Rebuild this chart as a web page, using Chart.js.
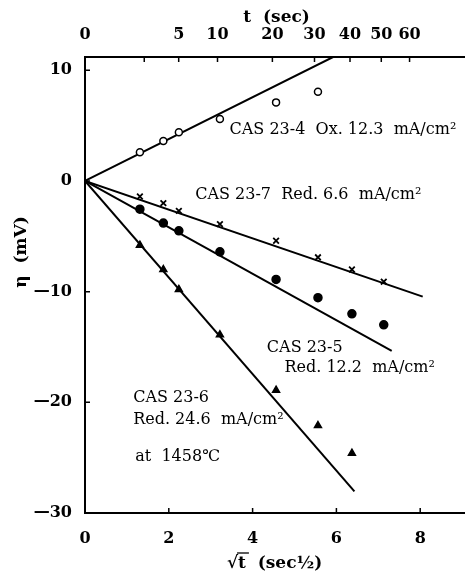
<!DOCTYPE html>
<html>
<head>
<meta charset="utf-8">
<script src="https://cdn.jsdelivr.net/npm/chart.js@4.4.1/dist/chart.umd.min.js"></script>
<style>
  body { margin: 0; background: #fff; }
  #wrap { width: 470px; height: 581px; }
</style>
</head>
<body>
<div id="wrap"><canvas id="myChart" width="470" height="581"></canvas></div>
<script>
// sqrt(t) positions of the measurements
const sqrtT = [1.31, 1.87, 2.24, 3.22, 4.56, 5.56, 6.37, 7.13];

// overpotential (mV) for each run
const ox23_4  = [2.6, 3.6, 4.4, 5.6, 7.1, 8.05];
const red23_7 = [-1.4, -2.0, -2.7, -3.9, -5.4, -6.9, -8.0, -9.1];
const red23_5 = [-2.55, -3.8, -4.5, -6.4, -8.9, -10.55, -12.0, -13.0];
const red23_6 = [-5.8, -8.0, -9.8, -13.9, -18.9, -22.1, -24.6];

// straight fitted lines, start and end points
const fit23_4X = [0, 5.92],  fit23_4Y = [0, 11.2];
const fit23_7X = [0, 8.06],  fit23_7Y = [0, -10.45];
const fit23_5X = [0, 7.32],  fit23_5Y = [0, -15.35];
const fit23_6X = [0, 6.43],  fit23_6Y = [0, -28.05];

// axis ticks
const xTicks = [0, 2, 4, 6, 8];
const yTicks = [-30, -20, -10, 0, 10];
const tTicks = [0, 5, 10, 20, 30, 40, 50, 60];   // top axis, seconds
const tMinor = [2];

const notes = [
  { text: 'CAS 23-4  Ox. 12.3  mA/cm\u00b2', x: 3.45, y: 4.6 },
  { text: 'CAS 23-7  Red. 6.6  mA/cm\u00b2', x: 2.63, y: -1.25 },
  { text: 'CAS 23-5', x: 4.34, y: -15.1 },
  { text: 'Red. 12.2  mA/cm\u00b2', x: 4.76, y: -16.9 },
  { text: 'CAS 23-6', x: 1.15, y: -19.6 },
  { text: 'Red. 24.6  mA/cm\u00b2', x: 1.15, y: -21.6 },
  { text: 'at  1458\u2103', x: 1.2, y: -24.95 }
];

function pts(xs, ys) {
  return ys.map((v, i) => ({ x: xs[i], y: v }));
}

function fitLine(xs, ys) {
  return {
    data: pts(xs, ys), showLine: true, pointRadius: 0,
    borderColor: '#000', borderWidth: 2, order: 2
  };
}

function marks(ys, style, filled, r, bw) {
  return {
    data: pts(sqrtT, ys), showLine: false, pointStyle: style,
    pointRadius: r, pointHoverRadius: r,
    borderColor: '#000', borderWidth: bw,
    backgroundColor: filled ? '#000' : '#fff', order: 1
  };
}

const serifBold = { family: 'DejaVu Serif', weight: 'bold', size: 16 };

const extras = {
  id: 'extras',
  afterDraw(chart) {
    const ctx = chart.ctx;
    const x = chart.scales.x, y = chart.scales.y, a = chart.chartArea;
    ctx.save();
    ctx.strokeStyle = '#000';
    ctx.lineWidth = 1.5;
    ctx.beginPath();
    xTicks.forEach(v => { const p = x.getPixelForValue(v); ctx.moveTo(p, a.bottom); ctx.lineTo(p, a.bottom - 5); });
    tTicks.concat(tMinor).forEach(t => { const p = x.getPixelForValue(Math.sqrt(t)); ctx.moveTo(p, a.top); ctx.lineTo(p, a.top + 5); });
    yTicks.forEach(v => { const p = y.getPixelForValue(v); ctx.moveTo(a.left, p); ctx.lineTo(a.left + 5, p); });
    ctx.stroke();

    // notes on the plot
    ctx.fillStyle = '#000';
    ctx.font = '16px "DejaVu Serif"';
    ctx.textAlign = 'left';
    ctx.textBaseline = 'middle';
    notes.forEach(n => ctx.fillText(n.text, x.getPixelForValue(n.x), y.getPixelForValue(n.y)));

    // top title
    ctx.font = 'bold 17px "DejaVu Serif"';
    ctx.textAlign = 'center';
    ctx.fillText('t  (sec)', (a.left + a.right) / 2 + 2, 18);

    // bottom title with root sign
    const cx = (a.left + a.right) / 2;
    const label = '\u221at  (sec\u00bd)';
    ctx.fillText(label, cx, 564);
    const w = ctx.measureText(label).width;
    const rootW = ctx.measureText('\u221a').width;
    const tW = ctx.measureText('t').width;
    const x0 = cx - w / 2 + rootW - 1;
    ctx.lineWidth = 1.3;
    ctx.beginPath();
    ctx.moveTo(x0, 553);
    ctx.lineTo(x0 + tW + 4, 553);
    ctx.stroke();

    // y title
    ctx.translate(22, 252);
    ctx.rotate(-Math.PI / 2);
    ctx.textAlign = 'center';
    ctx.font = 'bold 17px "DejaVu Serif"';
    ctx.fillText('\u03b7  (mV)', 0, 0);
    ctx.restore();
  }
};

var ctx = document.getElementById('myChart').getContext('2d');
var chart = new Chart(ctx, {
  type: 'scatter',
  data: {
    datasets: [
      fitLine(fit23_4X, fit23_4Y),
      fitLine(fit23_7X, fit23_7Y),
      fitLine(fit23_5X, fit23_5Y),
      fitLine(fit23_6X, fit23_6Y),
      marks(ox23_4, 'circle', false, 3.5, 1.5),
      marks(red23_7, 'crossRot', false, 4, 1.8),
      marks(red23_5, 'circle', true, 4, 1.5),
      marks(red23_6, 'triangle', true, 4, 1.5)
    ]
  },
  options: {
    responsive: false,
    animation: false,
    layout: { padding: 0 },
    plugins: { legend: { display: false }, tooltip: { enabled: false } },
    scales: {
      x: {
        type: 'linear', position: 'bottom', min: 0, max: 9.05,
        afterBuildTicks: s => { s.ticks = xTicks.map(v => ({ value: v })); },
        afterFit: s => { s.height = 68; },
        grid: { display: false },
        border: { display: true, color: '#000', width: 2 },
        ticks: { color: '#000', font: serifBold, padding: 8, maxRotation: 0, autoSkip: false }
      },
      x2: {
        type: 'linear', position: 'top', min: 0, max: 9.05,
        afterBuildTicks: s => { s.ticks = tTicks.map(t => ({ value: Math.sqrt(t) })); },
        afterFit: s => { s.height = 57; },
        grid: { display: false },
        border: { display: true, color: '#000', width: 2 },
        ticks: {
          color: '#000', font: serifBold, padding: 5, maxRotation: 0, autoSkip: false,
          callback: v => Math.round(v * v)
        }
      },
      y: {
        type: 'linear', position: 'left', min: -30, max: 11.2,
        afterBuildTicks: s => { s.ticks = yTicks.map(v => ({ value: v })); },
        afterFit: s => { s.width = 85; },
        grid: { display: false },
        border: { display: true, color: '#000', width: 2 },
        ticks: {
          color: '#000', font: serifBold, padding: 5,
          callback: v => v < 0 ? '\u2014' + (-v) : '' + v
        }
      }
    }
  },
  plugins: [extras]
});
</script>
</body>
</html>
